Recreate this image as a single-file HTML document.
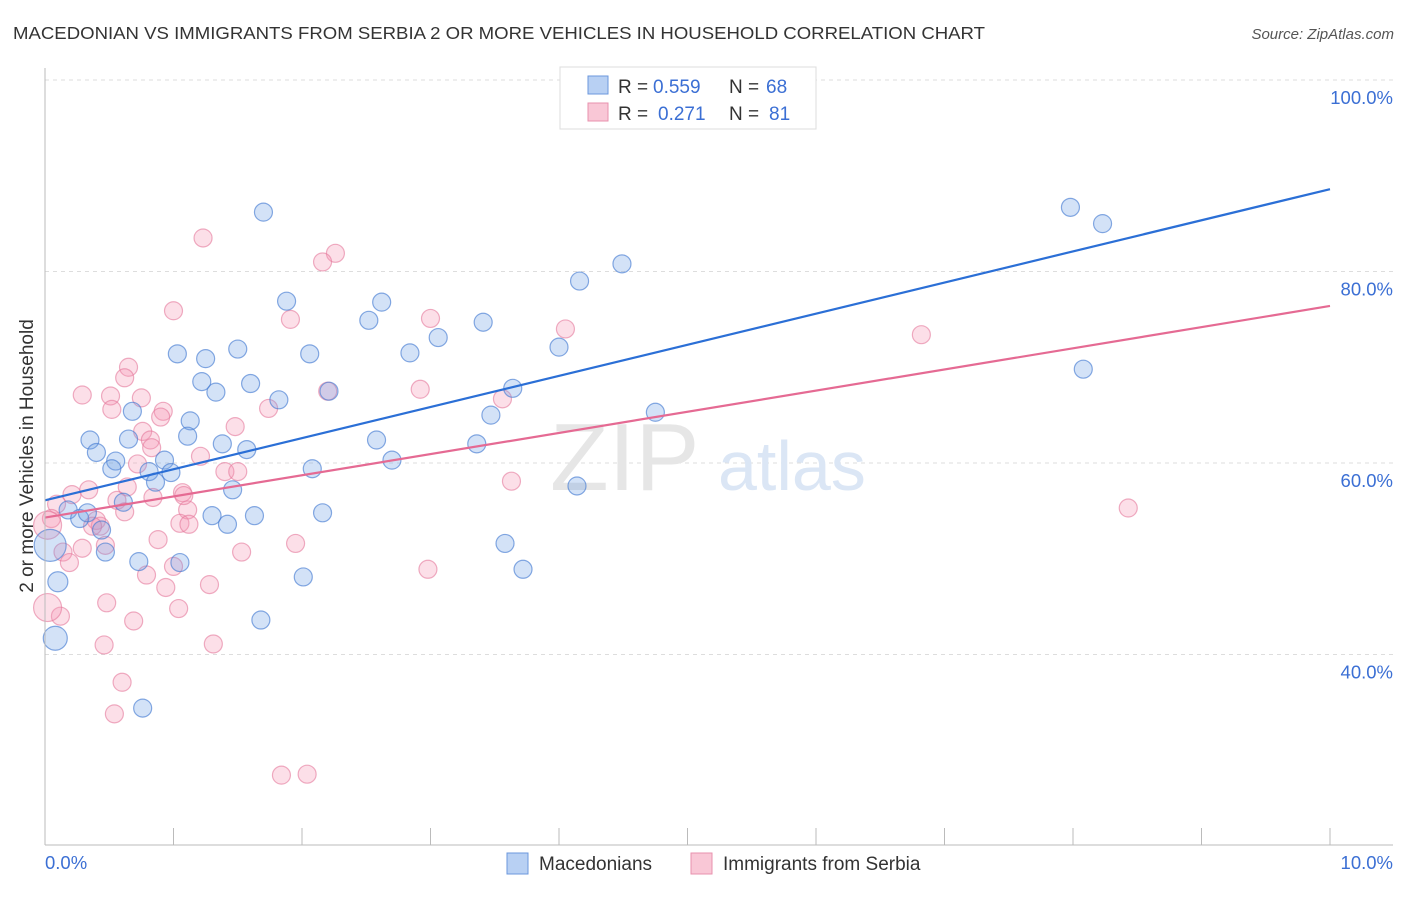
<!DOCTYPE html>
<html><head><meta charset="utf-8"><style>
body{margin:0;background:#fff;font-family:"Liberation Sans",sans-serif}
svg text{font-family:"Liberation Sans",sans-serif}
</style></head><body>
<svg width="1406" height="892" viewBox="0 0 1406 892">
<text x="13" y="39" font-size="17.5" fill="#333" textLength="972" lengthAdjust="spacingAndGlyphs">MACEDONIAN VS IMMIGRANTS FROM SERBIA 2 OR MORE VEHICLES IN HOUSEHOLD CORRELATION CHART</text>
<text x="1394" y="39" font-size="15" fill="#555" font-style="italic" text-anchor="end">Source: ZipAtlas.com</text>
<g id="grid"></g>
<text x="550" y="490" font-size="96" fill="#e6e6e6" font-family="Liberation Serif">ZIP</text>
<text x="718" y="490" font-size="70" fill="#dbe6f5">atlas</text>
<g id="pts"></g>
<g id="lines"></g>
<line x1="45" y1="68" x2="45" y2="845" stroke="#bbb"/>
<line x1="45" y1="845" x2="1393" y2="845" stroke="#bbb"/>
<g id="xt"></g>
<text x="45" y="869" font-size="18.5" fill="#3b6fd4">0.0%</text>
<text x="1393" y="869" font-size="18.5" fill="#3b6fd4" text-anchor="end">10.0%</text>
<text transform="translate(33,456) rotate(-90)" font-size="19" fill="#333" text-anchor="middle">2 or more Vehicles in Household</text>
<g>
<rect x="560" y="67" width="256" height="62" fill="#fff" stroke="#ddd"/>
<rect x="588" y="76" width="20" height="18" fill="#b8d0f3" stroke="#6b97dc"/>
<rect x="588" y="103" width="20" height="18" fill="#f9c7d6" stroke="#e892ae"/>
<text x="618" y="93" font-size="19" fill="#333">R =</text>
<text x="653" y="93" font-size="19" fill="#3b6fd4">0.559</text>
<text x="729" y="93" font-size="19" fill="#333">N =</text>
<text x="766" y="93" font-size="19" fill="#3b6fd4">68</text>
<text x="618" y="120" font-size="19" fill="#333">R =</text>
<text x="658" y="120" font-size="19" fill="#3b6fd4">0.271</text>
<text x="729" y="120" font-size="19" fill="#333">N =</text>
<text x="769" y="120" font-size="19" fill="#3b6fd4">81</text>
</g>
<g>
<rect x="507" y="853" width="21" height="21" fill="#b8d0f3" stroke="#6b97dc"/>
<text x="539" y="870" font-size="19" fill="#333">Macedonians</text>
<rect x="691" y="853" width="21" height="21" fill="#f9c7d6" stroke="#e892ae"/>
<text x="723" y="870" font-size="19" fill="#333">Immigrants from Serbia</text>
</g>
</svg>
<script>
const yTicks=[40,60,80,100];
const yTickLabels=["40.0%","60.0%","80.0%","100.0%"];
const xTicks=[0,1,2,3,4,5,6,7,8,9,10];
const blueX=[1.70,7.98,8.23,4.49,4.16,1.88,2.62,2.52,3.41,3.06,1.50,1.03,1.25,2.06,2.84,4.00,8.08,1.22,1.33,1.60,1.82,2.21,3.64,3.47,4.75,0.68,1.13,0.35,0.65,1.11,1.38,2.58,3.36,0.40,1.57,0.55,0.93,0.52,0.81,0.98,0.86,2.08,2.70,1.46,4.14,0.61,0.18,0.27,0.33,0.44,1.30,1.42,1.63,2.16,0.47,0.73,1.05,3.58,3.72,2.01,0.10,1.68,0.76,0.04,0.08];
const blueY=[86.2,86.7,85.0,80.8,79.0,76.9,76.8,74.9,74.7,73.1,71.9,71.4,70.9,71.4,71.5,72.1,69.8,68.5,67.4,68.3,66.6,67.5,67.8,65.0,65.3,65.4,64.4,62.4,62.5,62.8,62.0,62.4,62.0,61.1,61.4,60.2,60.3,59.4,59.1,59.0,58.0,59.4,60.3,57.2,57.6,55.9,55.1,54.2,54.8,53.0,54.5,53.6,54.5,54.8,50.7,49.7,49.6,51.6,48.9,48.1,47.6,43.6,34.4,51.4,41.7];
const blueR=[9,9,9,9,9,9,9,9,9,9,9,9,9,9,9,9,9,9,9,9,9,9,9,9,9,9,9,9,9,9,9,9,9,9,9,9,9,9,9,9,9,9,9,9,9,9,9,9,9,9,9,9,9,9,9,9,9,9,9,9,10,9,9,16,12];
const pinkX=[1.23,2.26,2.16,1.00,1.91,3.00,4.05,6.82,0.65,0.62,0.29,0.51,0.75,0.52,0.92,0.90,2.20,2.92,3.56,1.74,1.48,0.76,0.82,0.83,1.21,0.72,1.40,1.50,3.63,8.43,0.34,0.21,0.09,0.64,0.84,1.07,0.56,0.62,1.11,0.40,0.43,1.05,1.12,0.05,0.88,1.53,1.95,0.29,0.47,0.14,0.19,1.00,0.79,0.94,1.28,2.98,0.48,1.04,0.69,0.12,0.46,1.31,0.60,0.54,1.84,2.04,0.37,1.08,0.02,0.02];
const pinkY=[83.5,81.9,81.0,75.9,75.0,75.1,74.0,73.4,70.0,68.9,67.1,67.0,66.8,65.6,65.4,64.8,67.5,67.7,66.7,65.7,63.8,63.3,62.4,61.6,60.7,59.9,59.1,59.1,58.1,55.3,57.2,56.7,55.7,57.5,56.4,56.9,56.1,54.9,55.1,54.0,53.4,53.7,53.6,54.2,52.0,50.7,51.6,51.1,51.4,50.7,49.6,49.2,48.3,47.0,47.3,48.9,45.4,44.8,43.5,44.0,41.0,41.1,37.1,33.8,27.4,27.5,53.4,56.6,53.5,44.9];
const pinkR=[9,9,9,9,9,9,9,9,9,9,9,9,9,9,9,9,9,9,9,9,9,9,9,9,9,9,9,9,9,9,9,9,9,9,9,9,9,9,9,9,9,9,9,9,9,9,9,9,9,9,9,9,9,9,9,9,9,9,9,9,9,9,9,9,9,9,9,9,14,14];
const blueTrend=[56.1,88.6];
const pinkTrend=[54.3,76.4];
const NS="http://www.w3.org/2000/svg";
const sx=v=>45+v*128.5;
const sy=v=>463-(v-60)*9.575;
function mk(t,a,p){const e=document.createElementNS(NS,t);for(const k in a)e.setAttribute(k,a[k]);p.appendChild(e);return e;}
const grid=document.getElementById('grid');
yTicks.forEach((t,i)=>{
 const l=mk('line',{x1:45,x2:1393,y1:sy(t),y2:sy(t),stroke:'#ddd','stroke-dasharray':'4,4'},grid);
 
 
 const tx=mk('text',{x:1393,y:sy(t)+24,'font-size':18.5,fill:'#3b6fd4','text-anchor':'end'},grid);
 tx.textContent=yTickLabels[i];
 
 
});
const xt=document.getElementById('xt');
xTicks.forEach(t=>{
 const l=mk('line',{x1:sx(t),x2:sx(t),y1:828,y2:845,stroke:'#bbb'},xt);
 
 
});
const pts=document.getElementById('pts');
pinkX.forEach((x,i)=>{
 const c=mk('circle',{cx:sx(x),cy:sy(pinkY[i]),r:pinkR[i],fill:'rgba(244,150,180,0.3)',stroke:'rgba(228,120,155,0.6)','stroke-width':1.2},pts);
 
 
});
blueX.forEach((x,i)=>{
 const c=mk('circle',{cx:sx(x),cy:sy(blueY[i]),r:blueR[i],fill:'rgba(110,160,230,0.3)',stroke:'rgba(70,125,210,0.65)','stroke-width':1.2},pts);
 
 
});
const lines=document.getElementById('lines');
const bl=mk('line',{x1:sx(0),y1:sy(blueTrend[0]),x2:sx(10),y2:sy(blueTrend[1]),stroke:'#2b6fd6','stroke-width':2.2},lines);


const pl=mk('line',{x1:sx(0),y1:sy(pinkTrend[0]),x2:sx(10),y2:sy(pinkTrend[1]),stroke:'#e56a93','stroke-width':2.2},lines);


</script>
</body></html>
